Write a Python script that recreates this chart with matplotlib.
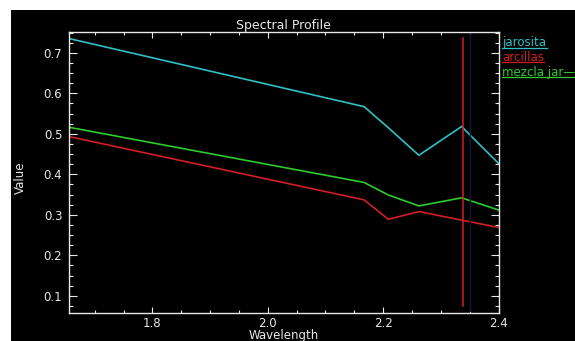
import matplotlib
matplotlib.use('Agg')
from matplotlib import pyplot as plt
from matplotlib.patches import Rectangle
from matplotlib.lines import Line2D
from matplotlib.ticker import MultipleLocator, FormatStrFormatter

# ASTER SWIR band centres (micrometres)
wavelength = [1.656, 2.167, 2.209, 2.262, 2.336, 2.400]

# spectra
jarosita = [0.735, 0.567, 0.515, 0.447, 0.518, 0.427]
arcillas = [0.493, 0.337, 0.289, 0.308, 0.287, 0.269]
mezcla = [0.516, 0.380, 0.349, 0.322, 0.342, 0.312]

names = ['jarosita', 'arcillas', 'mezcla jar\u2014']
colors = ['#30c0c8', '#d41e26', '#2ccc2c']

# current band marker + cursor line
marker_x = 2.338
marker_y = [0.074, 0.737]
cursor_x = 2.351
cursor_y = [0.062, 0.748]

W, H = 575, 341
fg = '#e8e8e8'
fs = 8.5

fig = plt.figure(figsize=(W / 100, H / 100), dpi=100, facecolor='white')
# black window with a thin white margin on the left and top
fig.patches.append(Rectangle((11 / W, 0), 1, (H - 10) / H, transform=fig.transFigure,
                             facecolor='black', edgecolor='none', zorder=-10))

ax = fig.add_axes([69.3 / W, (H - 313.3) / H, (498.5 - 69.3) / W, (313.3 - 31.7) / H])
ax.set_facecolor('black')

for vals, c in zip([jarosita, arcillas, mezcla], colors):
    ax.plot(wavelength, vals, color=c, lw=1.2, solid_joinstyle='miter')

ax.plot([cursor_x, cursor_x], cursor_y, color='#15153c', lw=1.0)
ax.plot([marker_x, marker_x], marker_y, color=colors[1], lw=1.1)

ax.set_xlim(1.656, 2.4)
ax.set_ylim(0.057, 0.752)

ax.xaxis.set_major_locator(MultipleLocator(0.2))
ax.xaxis.set_minor_locator(MultipleLocator(0.05))
ax.yaxis.set_major_locator(MultipleLocator(0.1))
ax.yaxis.set_minor_locator(MultipleLocator(0.025))
ax.xaxis.set_major_formatter(FormatStrFormatter('%.1f'))
ax.yaxis.set_major_formatter(FormatStrFormatter('%.1f'))

for s in ax.spines.values():
    s.set_color(fg)
    s.set_linewidth(1.0)

ax.tick_params(axis='both', which='both', direction='in', colors=fg, labelsize=fs,
               top=True, right=True, width=0.8)
ax.tick_params(axis='x', which='major', length=4, pad=3)
ax.tick_params(axis='x', which='minor', length=2.3)
ax.tick_params(axis='y', which='major', length=6, pad=5)
ax.tick_params(axis='y', which='minor', length=3)

ax.set_title('Spectral Profile', color=fg, fontsize=fs + 0.5, pad=2)
ax.set_xlabel('Wavelength', color=fg, fontsize=fs, labelpad=-1)
ax.set_ylabel('Value', color=fg, fontsize=fs)
ax.yaxis.set_label_coords(-0.098, 0.48)

# legend on the right: coloured names with underlines
for i, (n, c) in enumerate(zip(names, colors)):
    base = 46 + i * 14.8
    fig.text(502 / W, (H - base) / H, n, color=c, fontsize=fs, ha='left', va='baseline')
    end = [547, 544, 575][i]
    fig.lines.append(Line2D([502 / W, end / W], [(H - base - 1.5) / H] * 2,
                            transform=fig.transFigure, color=c, lw=0.9))

fig.savefig('out.png', dpi=100, facecolor=fig.get_facecolor())
